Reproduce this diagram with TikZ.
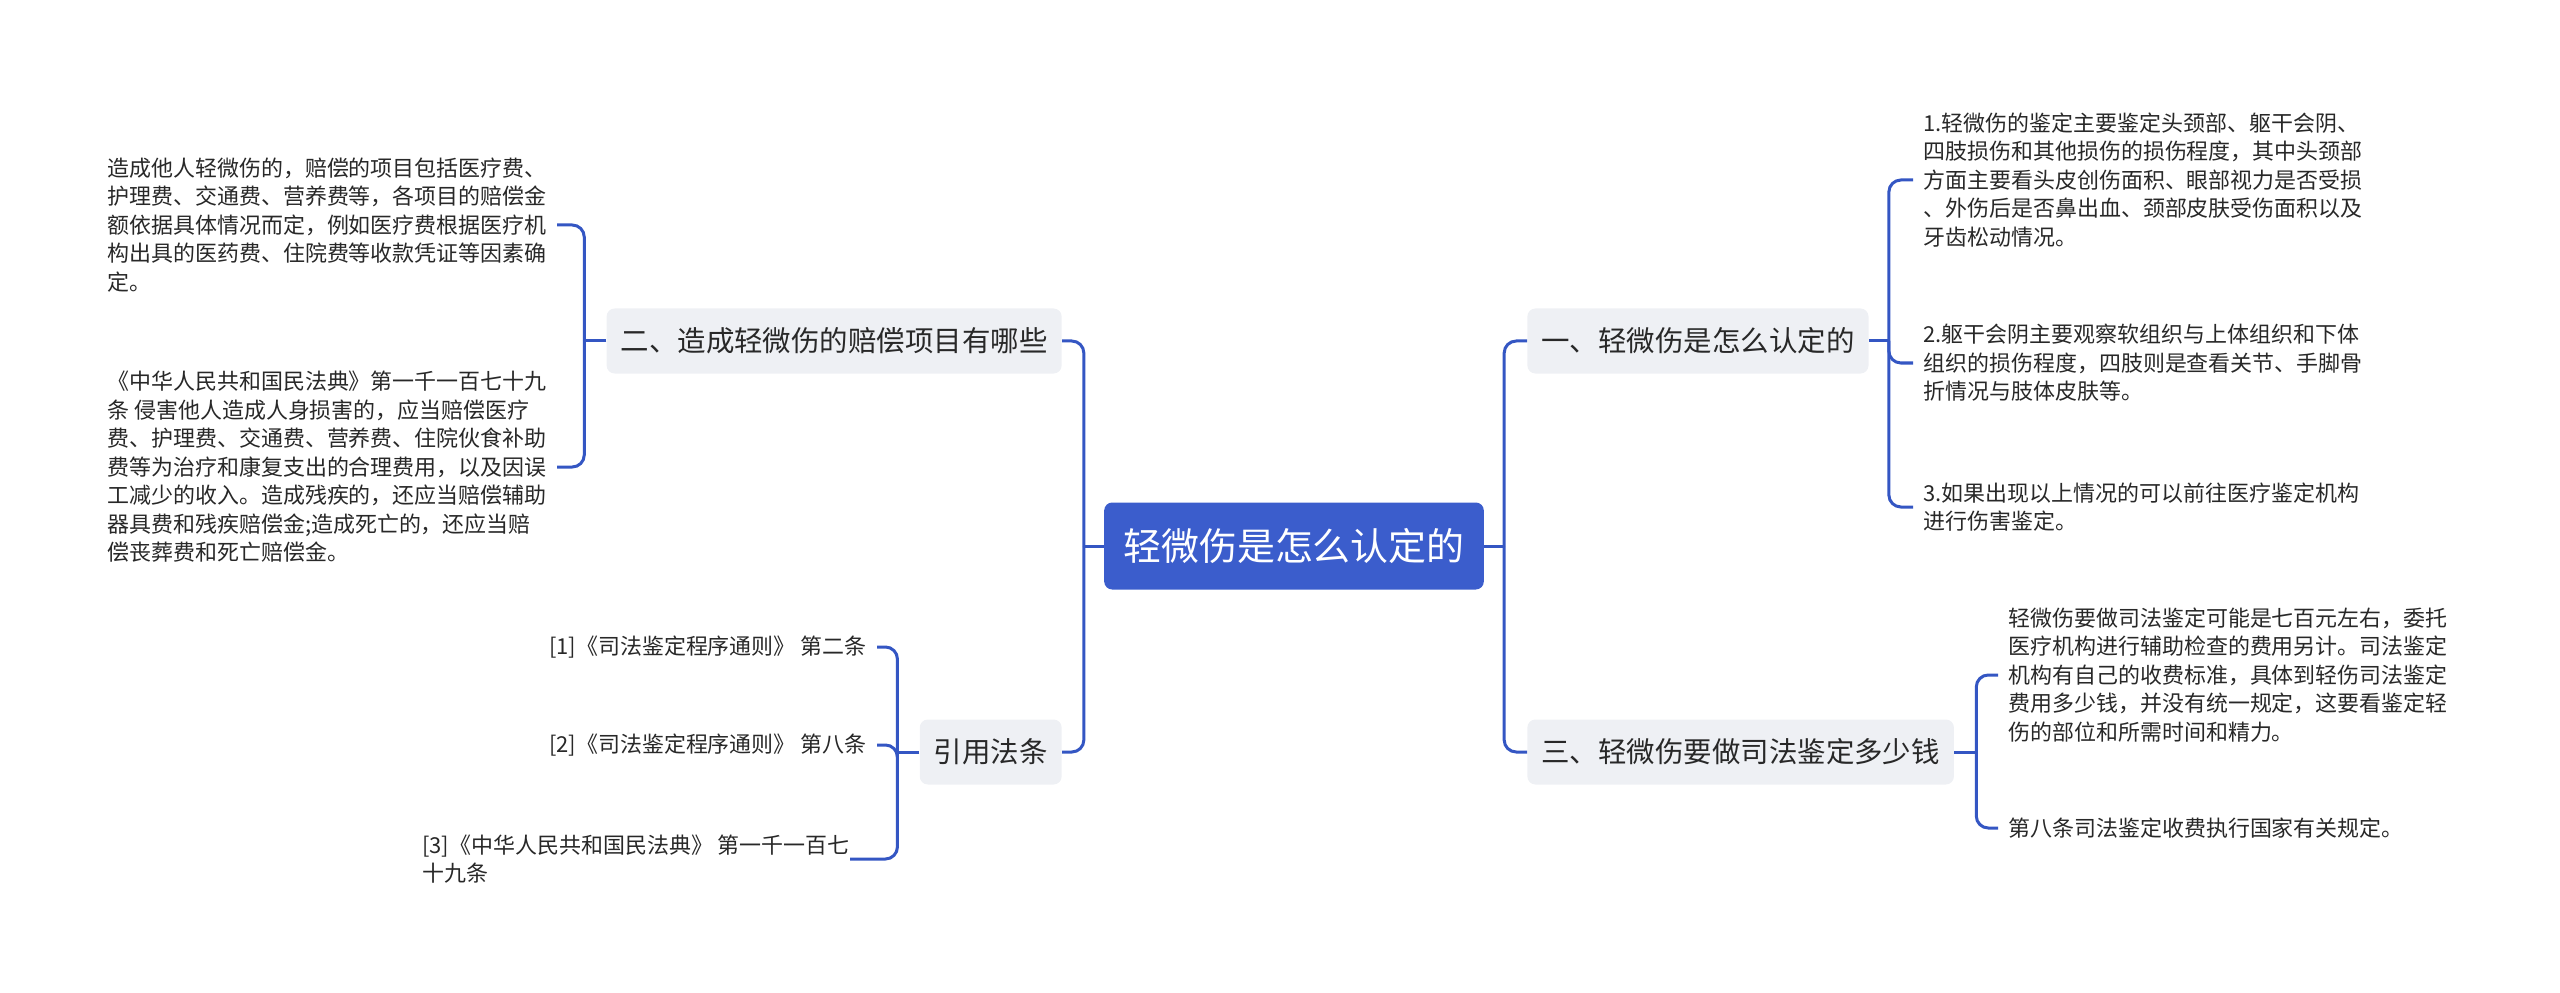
\documentclass[tikz,border=0pt]{standalone}
\usepackage{fontspec}
\setmainfont{Noto Sans CJK SC}
\definecolor{mainblue}{RGB}{59,93,204}
\definecolor{lineblue}{RGB}{52,86,195}
\definecolor{topicgray}{RGB}{238,240,244}
\definecolor{textdark}{RGB}{40,40,40}
\begin{document}
\begin{tikzpicture}[x=0.2mm, y=-0.2mm]

\tikzstyle{root}=[rectangle, rounded corners=1.6mm, fill=mainblue, text=white, font=\fontsize{21.6}{26}\selectfont, minimum height=17.4mm, inner xsep=3.8mm]
\tikzstyle{topic}=[rectangle, rounded corners=1.6mm, fill=topicgray, text=textdark, font=\fontsize{16.2}{19}\selectfont, minimum height=13mm, inner xsep=2.8mm]
\tikzstyle{leaf}=[align=left, text=textdark, font=\fontsize{12.5}{16.2}\selectfont, inner xsep=2mm, inner ysep=0pt]
\tikzstyle{link}=[line width=0.6mm, draw=lineblue, rounded corners=2.4mm]

\useasboundingbox (0,0) rectangle (2560,993);

\node (M) [root] at (1294,546) {轻微伤是怎么认定的};

\node (B2) [topic, anchor=east] at (1062,341) {二、造成轻微伤的赔偿项目有哪些};
\node (B4) [topic, anchor=east] at (1062,752) {引用法条};
\node (B1) [topic, anchor=west] at (1527,341) {一、轻微伤是怎么认定的};
\node (B3) [topic, anchor=west] at (1527,752) {三、轻微伤要做司法鉴定多少钱};

\node (L21) [leaf, anchor=west] at (97,225) {造成他人轻微伤的，赔偿的项目包括医疗费、\\护理费、交通费、营养费等，各项目的赔偿金\\额依据具体情况而定，例如医疗费根据医疗机\\构出具的医药费、住院费等收款凭证等因素确\\定。};
\node (L22) [leaf, anchor=west] at (97,467) {《中华人民共和国民法典》第一千一百七十九\\条 侵害他人造成人身损害的，应当赔偿医疗\\费、护理费、交通费、营养费、住院伙食补助\\费等为治疗和康复支出的合理费用，以及因误\\工减少的收入。造成残疾的，还应当赔偿辅助\\器具费和残疾赔偿金;造成死亡的，还应当赔\\偿丧葬费和死亡赔偿金。};

\node (L41) [leaf, anchor=east] at (877,647) {[1]《司法鉴定程序通则》 第二条};
\node (L42) [leaf, anchor=east] at (877,745) {[2]《司法鉴定程序通则》 第八条};
\node (L43) [leaf, anchor=west] at (412,859) {[3]《中华人民共和国民法典》 第一千一百七\\十九条};

\node (L11) [leaf, anchor=west] at (1913,180) {1.轻微伤的鉴定主要鉴定头颈部、躯干会阴、\\四肢损伤和其他损伤的损伤程度，其中头颈部\\方面主要看头皮创伤面积、眼部视力是否受损\\、外伤后是否鼻出血、颈部皮肤受伤面积以及\\牙齿松动情况。};
\node (L12) [leaf, anchor=west] at (1913,363) {2.躯干会阴主要观察软组织与上体组织和下体\\组织的损伤程度，四肢则是查看关节、手脚骨\\折情况与肢体皮肤等。};
\node (L13) [leaf, anchor=west] at (1913,507) {3.如果出现以上情况的可以前往医疗鉴定机构\\进行伤害鉴定。};

\node (L31) [leaf, anchor=west] at (1998,675) {轻微伤要做司法鉴定可能是七百元左右，委托\\医疗机构进行辅助检查的费用另计。司法鉴定\\机构有自己的收费标准，具体到轻伤司法鉴定\\费用多少钱，并没有统一规定，这要看鉴定轻\\伤的部位和所需时间和精力。};
\node (L32) [leaf, anchor=west] at (1998,828) {第八条司法鉴定收费执行国家有关规定。};

% root to topics
\draw [link] (M.west) -- ++(-20,0) coordinate (JL);
\draw [link] (JL) |- (B2.east);
\draw [link] (JL) |- (B4.east);
\draw [link] (M.east) -- ++(20,0) coordinate (JR);
\draw [link] (JR) |- (B1.west);
\draw [link] (JR) |- (B3.west);

% topics to leaves
\draw [link] (B2.west) -- ++(-22,0) coordinate (J2);
\draw [link] (J2) |- (L21.east);
\draw [link] (J2) |- (L22.east);
\draw [link] (B4.west) -- ++(-22,0) coordinate (J4);
\draw [link] (J4) |- (L41.east);
\draw [link] (J4) |- (L42.east);
\draw [link] (J4) |- ([xshift=-2mm]L43.north east |- L43.east);
\draw [link] (B1.east) -- ++(20,0) coordinate (J1);
\draw [link] (J1) |- (L11.west);
\draw [link] (J1) |- (L12.west);
\draw [link] (J1) |- (L13.west);
\draw [link] (B3.east) -- ++(22,0) coordinate (J3);
\draw [link] (J3) |- (L31.west);
\draw [link] (J3) |- (L32.west);

\end{tikzpicture}
\end{document}
